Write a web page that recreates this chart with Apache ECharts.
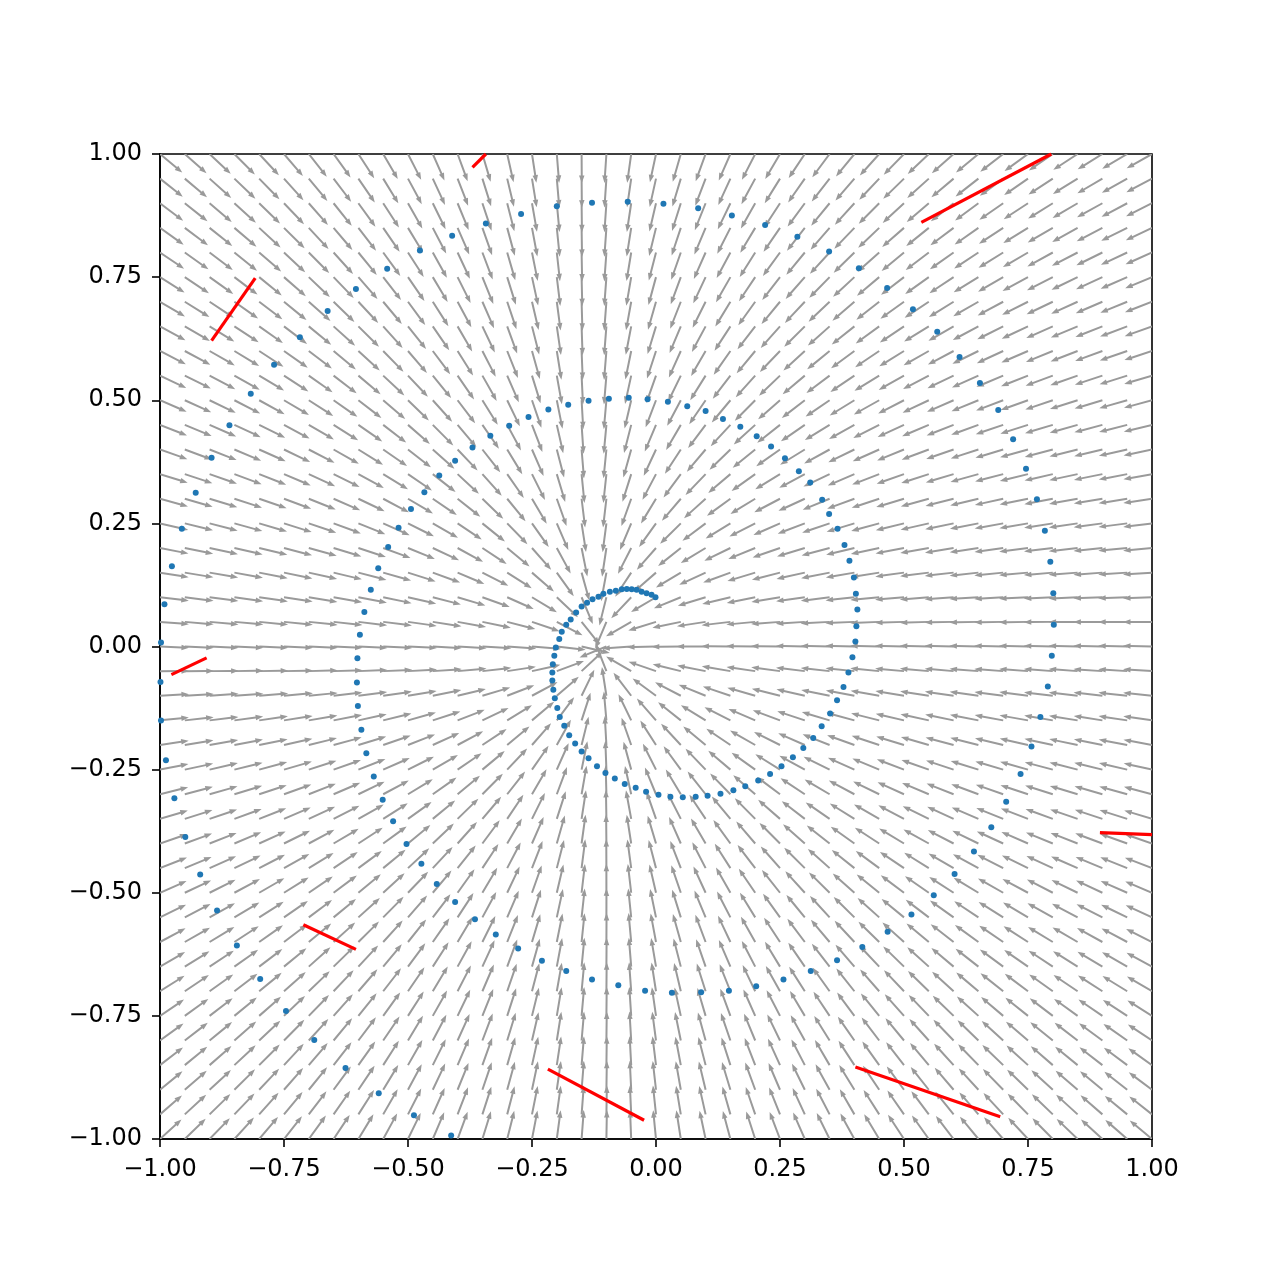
<!DOCTYPE html>
<html>
<head>
<meta charset="utf-8">
<script src="https://cdn.jsdelivr.net/npm/echarts@6/dist/echarts.min.js"></script>
<style>
html,body{margin:0;padding:0;background:#fff;}
#chart{width:1280px;height:1280px;}
</style>
</head>
<body>
<div id="chart"></div>
<script>
// Arrow grid positions (both axes)
const gridCoords = [-1.00,-0.95,-0.90,-0.85,-0.80,-0.75,-0.70,-0.65,-0.60,-0.55,-0.50,-0.45,-0.40,-0.35,-0.30,-0.25,-0.20,-0.15,-0.10,-0.05,0.00,0.05,0.10,0.15,0.20,0.25,0.30,0.35,0.40,0.45,0.50,0.55,0.60,0.65,0.70,0.75,0.80,0.85,0.90,0.95,1.00];
// Vector field: sink point and flow matrices v = M (p - c)
// (upper matrix used above the sink, lower matrix below it)
const fieldCenter = [-0.115, -0.01];
const fieldMatrixUpper = [[-1.0, -0.03], [0.035, -0.68]];
const fieldMatrixLower = [[-1.0, -0.03], [0.035, -0.88]];

// Spiral trajectory points (x, y)
const spiralPoints = [
[-0.001,0.100],[-0.009,0.105],[-0.019,0.108],[-0.029,0.111],[-0.039,0.115],[-0.049,0.116],[-0.059,0.117],[-0.069,0.116],[-0.081,0.113],[-0.093,0.111],
[-0.106,0.107],[-0.116,0.101],[-0.128,0.096],[-0.139,0.089],[-0.150,0.081],[-0.161,0.069],[-0.172,0.055],[-0.181,0.044],[-0.190,0.030],[-0.195,0.015],
[-0.202,-0.002],[-0.205,-0.019],[-0.208,-0.036],[-0.209,-0.053],[-0.209,-0.069],[-0.207,-0.088],[-0.204,-0.105],[-0.199,-0.125],[-0.194,-0.143],[-0.185,-0.161],
[-0.175,-0.180],[-0.163,-0.197],[-0.150,-0.213],[-0.136,-0.227],[-0.119,-0.243],[-0.102,-0.257],[-0.083,-0.268],[-0.063,-0.279],[-0.041,-0.287],[-0.020,-0.295],
[0.005,-0.301],[0.029,-0.305],[0.054,-0.306],[0.080,-0.305],[0.104,-0.303],[0.130,-0.299],[0.156,-0.292],[0.180,-0.284],[0.206,-0.272],[0.230,-0.259],
[0.253,-0.243],[0.276,-0.225],[0.297,-0.206],[0.317,-0.186],[0.334,-0.162],[0.351,-0.136],[0.365,-0.109],[0.378,-0.082],[0.388,-0.053],[0.396,-0.022],
[0.402,0.010],[0.404,0.041],[0.406,0.075],[0.403,0.107],[0.399,0.140],[0.390,0.174],[0.380,0.206],[0.366,0.239],[0.349,0.269],[0.335,0.298],
[0.311,0.333],[0.288,0.356],[0.260,0.382],[0.232,0.406],[0.203,0.427],[0.170,0.446],[0.135,0.462],[0.100,0.478],[0.063,0.488],[0.024,0.497],
[-0.017,0.502],[-0.055,0.505],[-0.095,0.503],[-0.136,0.499],[-0.177,0.491],[-0.217,0.481],[-0.257,0.466],[-0.296,0.448],[-0.334,0.428],[-0.370,0.404],
[-0.405,0.377],[-0.437,0.347],[-0.467,0.313],[-0.494,0.279],[-0.519,0.241],[-0.540,0.202],[-0.560,0.159],[-0.575,0.115],[-0.588,0.070],[-0.597,0.024],
[-0.602,-0.024],[-0.603,-0.073],[-0.601,-0.121],[-0.594,-0.169],[-0.584,-0.217],[-0.569,-0.264],[-0.551,-0.311],[-0.530,-0.355],[-0.503,-0.401],[-0.473,-0.441],
[-0.442,-0.482],[-0.405,-0.519],[-0.365,-0.554],[-0.323,-0.585],[-0.278,-0.613],[-0.230,-0.638],[-0.181,-0.659],[-0.129,-0.676],[-0.076,-0.688],[-0.022,-0.699],
[0.032,-0.703],[0.091,-0.702],[0.147,-0.699],[0.202,-0.690],[0.257,-0.676],[0.312,-0.659],[0.365,-0.637],[0.416,-0.610],[0.467,-0.579],[0.515,-0.544],
[0.560,-0.505],[0.602,-0.462],[0.641,-0.416],[0.676,-0.367],[0.706,-0.315],[0.735,-0.259],[0.757,-0.203],[0.775,-0.143],[0.790,-0.081],[0.798,-0.019],
[0.802,0.044],[0.801,0.108],[0.795,0.172],[0.784,0.235],[0.768,0.299],[0.746,0.361],[0.720,0.421],[0.690,0.480],[0.653,0.535],[0.612,0.588],
[0.567,0.639],[0.518,0.685],[0.466,0.728],[0.409,0.768],[0.349,0.802],[0.285,0.832],[0.220,0.856],[0.153,0.875],[0.085,0.890],[0.015,0.899],
[-0.057,0.903],[-0.129,0.901],[-0.200,0.894],[-0.272,0.878],[-0.343,0.859],[-0.411,0.834],[-0.476,0.804],[-0.542,0.767],[-0.605,0.726],[-0.662,0.681],
[-0.718,0.628],[-0.770,0.572],[-0.817,0.513],[-0.860,0.449],[-0.896,0.383],[-0.928,0.312],[-0.956,0.239],[-0.976,0.163],[-0.991,0.086],[-0.998,0.008],
[-0.999,-0.072],[-0.998,-0.150],[-0.988,-0.231],[-0.971,-0.308],[-0.949,-0.387],[-0.919,-0.463],[-0.885,-0.536],[-0.845,-0.607],[-0.798,-0.675],[-0.746,-0.740],
[-0.689,-0.799],[-0.626,-0.856],[-0.559,-0.907],[-0.488,-0.952],[-0.413,-0.993]
];

// Red segments: [[x1,y1],[x2,y2]]
const redSegments = [
[[-0.370,0.973],[-0.343,1.000]],
[[0.535,0.861],[0.797,1.000]],
[[-0.896,0.621],[-0.808,0.748]],
[[-0.977,-0.057],[-0.906,-0.023]],
[[0.895,-0.378],[1.000,-0.382]],
[[-0.711,-0.565],[-0.605,-0.615]],
[[-0.218,-0.858],[-0.024,-0.962]],
[[0.402,-0.854],[0.694,-0.955]]
];

const axisTicks = { min: -1, max: 1, interval: 0.25 };

// build arrow data from grid + field
const arrowData = [];
for (const y of gridCoords) {
  for (const x of gridCoords) {
    const dx = x - fieldCenter[0], dy = y - fieldCenter[1];
    const M = dy >= 0 ? fieldMatrixUpper : fieldMatrixLower;
    const u = M[0][0]*dx + M[0][1]*dy;
    const v = M[1][0]*dx + M[1][1]*dy;
    arrowData.push([x, y, u, v]);
  }
}

const fmt = v => (v < 0 ? '\u2212' : '') + Math.abs(v).toFixed(2);

const chart = echarts.init(document.getElementById('chart'), null, {renderer:'canvas'});

const ARROW_LEN = 29, SHAFT_W = 2.0, HEAD_W = 5.5, HEAD_L = 7.5;

function renderArrow(params, api) {
  const x = api.value(0), y = api.value(1), u = api.value(2), v = api.value(3);
  const p0 = api.coord([x, y]);
  const eps = 0.01;
  const p1 = api.coord([x + u*eps, y + v*eps]);
  let ux = p1[0]-p0[0], uy = p1[1]-p0[1];
  const n = Math.hypot(ux, uy) || 1;
  ux /= n; uy /= n;
  const nx = -uy, ny = ux;
  const loc = [[0,-SHAFT_W/2],[ARROW_LEN-HEAD_L,-SHAFT_W/2],[ARROW_LEN-HEAD_L,-HEAD_W/2],[ARROW_LEN,0],[ARROW_LEN-HEAD_L,HEAD_W/2],[ARROW_LEN-HEAD_L,SHAFT_W/2],[0,SHAFT_W/2]];
  const pts = loc.map(([a,b]) => [p0[0]+a*ux+b*nx, p0[1]+a*uy+b*ny]);
  return { type:'polygon', shape:{points:pts}, style:{fill:'#9a9a9a', stroke:null} };
}

const labelStyle = { fontFamily:'DejaVu Sans', fontSize:24, color:'#000' };

const option = {
  backgroundColor:'#fff',
  animation:false,
  grid:{ left:160, right:128, top:154, bottom:141, show:true, borderColor:'#000', borderWidth:1.6, backgroundColor:'transparent' },
  xAxis:{ type:'value', min:axisTicks.min, max:axisTicks.max, interval:axisTicks.interval,
    axisLine:{show:true, onZero:false, lineStyle:{color:'#000', width:1.6}},
    axisTick:{show:true, inside:false, length:8, lineStyle:{color:'#000', width:1.6}},
    axisLabel:Object.assign({margin:19, formatter:fmt}, labelStyle),
    splitLine:{show:false} },
  yAxis:{ type:'value', min:axisTicks.min, max:axisTicks.max, interval:axisTicks.interval,
    axisLine:{show:true, onZero:false, lineStyle:{color:'#000', width:1.6}},
    axisTick:{show:true, inside:false, length:8, lineStyle:{color:'#000', width:1.6}},
    axisLabel:Object.assign({margin:18, formatter:fmt}, labelStyle),
    splitLine:{show:false} },
  series:[
    { type:'custom', coordinateSystem:'cartesian2d', renderItem:renderArrow, data:arrowData, clip:true, z:1, silent:true,
      encode:{x:0, y:1} },
    { type:'scatter', data:spiralPoints, symbol:'circle', symbolSize:6, itemStyle:{color:'#1f77b4', opacity:1}, clip:true, z:2, silent:true },
    { type:'lines', coordinateSystem:'cartesian2d', data:redSegments.map(s => ({coords:s})), lineStyle:{color:'#ff0000', width:3.2, opacity:1}, clip:true, z:3, silent:true }
  ]
};
chart.setOption(option);
</script>
</body>
</html>
